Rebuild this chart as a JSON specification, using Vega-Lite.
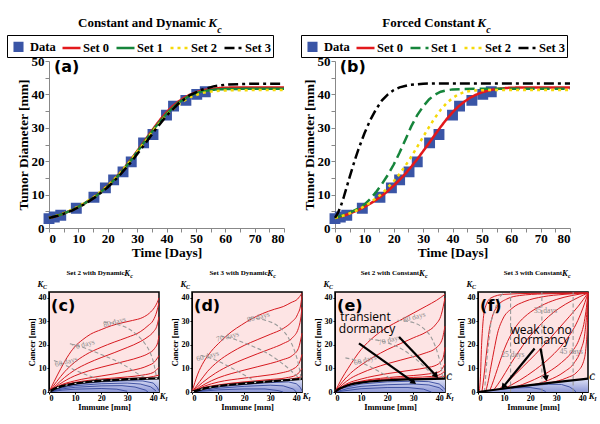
{
  "$schema": "https://vega.github.io/schema/vega-lite/v6.json",
  "padding": {"left": 6, "top": 17, "right": 0, "bottom": 0},
  "config": {
    "font": "Liberation Serif",
    "view": {"stroke": null},
    "axis": {"labelFont": "Liberation Serif", "labelFontWeight": "bold", "titleFont": "Liberation Serif", "titleFontWeight": "bold", "grid": false, "labelColor": "black", "titleColor": "black", "minExtent": 0},
    "text": {"font": "Liberation Serif"}
  },
  "datasets": {
    "top": [
      {"p":"d","s":"Data","t":0,"y":2.8},{"p":"d","s":"Data","t":1.8,"y":3.3},{"p":"d","s":"Data","t":4,"y":3.8},{"p":"d","s":"Data","t":9.3,"y":5.9},{"p":"d","s":"Data","t":15.3,"y":9.2},{"p":"d","s":"Data","t":19.2,"y":12.0},{"p":"d","s":"Data","t":22,"y":14.4},{"p":"d","s":"Data","t":25.2,"y":16.8},{"p":"d","s":"Data","t":28,"y":19.8},{"p":"d","s":"Data","t":32.2,"y":25.5},{"p":"d","s":"Data","t":35.4,"y":28.0},{"p":"d","s":"Data","t":40,"y":33.8},{"p":"d","s":"Data","t":42.4,"y":36.5},{"p":"d","s":"Data","t":46.6,"y":38.2},{"p":"d","s":"Data","t":50.3,"y":40.0},{"p":"d","s":"Data","t":53.2,"y":40.8},
      {"p":"ab","s":"Set 0","t":0,"y":3.0},{"p":"ab","s":"Set 0","t":2,"y":3.4},{"p":"ab","s":"Set 0","t":4,"y":4.0},{"p":"ab","s":"Set 0","t":6,"y":4.7},{"p":"ab","s":"Set 0","t":8,"y":5.4},{"p":"ab","s":"Set 0","t":10,"y":6.3},{"p":"ab","s":"Set 0","t":12,"y":7.3},{"p":"ab","s":"Set 0","t":14,"y":8.4},{"p":"ab","s":"Set 0","t":16,"y":9.7},{"p":"ab","s":"Set 0","t":18,"y":11.1},{"p":"ab","s":"Set 0","t":20,"y":12.7},{"p":"ab","s":"Set 0","t":22,"y":14.4},{"p":"ab","s":"Set 0","t":24,"y":16.3},{"p":"ab","s":"Set 0","t":26,"y":18.4},{"p":"ab","s":"Set 0","t":28,"y":20.6},{"p":"ab","s":"Set 0","t":30,"y":23.0},{"p":"ab","s":"Set 0","t":32,"y":25.4},{"p":"ab","s":"Set 0","t":34,"y":27.9},{"p":"ab","s":"Set 0","t":36,"y":30.3},{"p":"ab","s":"Set 0","t":38,"y":32.6},{"p":"ab","s":"Set 0","t":40,"y":34.6},{"p":"ab","s":"Set 0","t":42,"y":36.4},{"p":"ab","s":"Set 0","t":44,"y":37.8},{"p":"ab","s":"Set 0","t":46,"y":39.0},{"p":"ab","s":"Set 0","t":48,"y":39.9},{"p":"ab","s":"Set 0","t":50,"y":40.6},{"p":"ab","s":"Set 0","t":52,"y":41.1},{"p":"ab","s":"Set 0","t":54,"y":41.5},{"p":"ab","s":"Set 0","t":56,"y":41.7},{"p":"ab","s":"Set 0","t":58,"y":41.9},{"p":"ab","s":"Set 0","t":60,"y":42.0},{"p":"ab","s":"Set 0","t":65,"y":42.1},{"p":"ab","s":"Set 0","t":70,"y":42.1},{"p":"ab","s":"Set 0","t":75,"y":42.1},{"p":"ab","s":"Set 0","t":80,"y":42.1},
      {"p":"a","s":"Set 1","t":0,"y":3.0},{"p":"a","s":"Set 1","t":4,"y":4.0},{"p":"a","s":"Set 1","t":8,"y":5.4},{"p":"a","s":"Set 1","t":12,"y":7.3},{"p":"a","s":"Set 1","t":16,"y":9.6},{"p":"a","s":"Set 1","t":20,"y":12.5},{"p":"a","s":"Set 1","t":24,"y":16.1},{"p":"a","s":"Set 1","t":28,"y":20.4},{"p":"a","s":"Set 1","t":32,"y":25.2},{"p":"a","s":"Set 1","t":36,"y":30.0},{"p":"a","s":"Set 1","t":40,"y":34.2},{"p":"a","s":"Set 1","t":44,"y":37.5},{"p":"a","s":"Set 1","t":48,"y":39.7},{"p":"a","s":"Set 1","t":52,"y":40.9},{"p":"a","s":"Set 1","t":56,"y":41.4},{"p":"a","s":"Set 1","t":60,"y":41.6},{"p":"a","s":"Set 1","t":70,"y":41.7},{"p":"a","s":"Set 1","t":80,"y":41.7},
      {"p":"a","s":"Set 2","t":0,"y":3.0},{"p":"a","s":"Set 2","t":4,"y":4.0},{"p":"a","s":"Set 2","t":8,"y":5.5},{"p":"a","s":"Set 2","t":12,"y":7.4},{"p":"a","s":"Set 2","t":16,"y":9.7},{"p":"a","s":"Set 2","t":20,"y":12.6},{"p":"a","s":"Set 2","t":24,"y":16.2},{"p":"a","s":"Set 2","t":28,"y":20.4},{"p":"a","s":"Set 2","t":32,"y":25.0},{"p":"a","s":"Set 2","t":36,"y":29.7},{"p":"a","s":"Set 2","t":40,"y":33.8},{"p":"a","s":"Set 2","t":44,"y":37.0},{"p":"a","s":"Set 2","t":48,"y":39.2},{"p":"a","s":"Set 2","t":52,"y":40.4},{"p":"a","s":"Set 2","t":56,"y":41.0},{"p":"a","s":"Set 2","t":60,"y":41.2},{"p":"a","s":"Set 2","t":70,"y":41.3},{"p":"a","s":"Set 2","t":80,"y":41.3},
      {"p":"a","s":"Set 3","t":0,"y":3.0},{"p":"a","s":"Set 3","t":4,"y":3.9},{"p":"a","s":"Set 3","t":8,"y":5.3},{"p":"a","s":"Set 3","t":12,"y":7.1},{"p":"a","s":"Set 3","t":16,"y":9.4},{"p":"a","s":"Set 3","t":20,"y":12.2},{"p":"a","s":"Set 3","t":24,"y":15.7},{"p":"a","s":"Set 3","t":28,"y":19.8},{"p":"a","s":"Set 3","t":32,"y":24.4},{"p":"a","s":"Set 3","t":36,"y":29.2},{"p":"a","s":"Set 3","t":40,"y":33.6},{"p":"a","s":"Set 3","t":44,"y":37.2},{"p":"a","s":"Set 3","t":48,"y":39.8},{"p":"a","s":"Set 3","t":52,"y":41.4},{"p":"a","s":"Set 3","t":56,"y":42.4},{"p":"a","s":"Set 3","t":60,"y":42.9},{"p":"a","s":"Set 3","t":65,"y":43.1},{"p":"a","s":"Set 3","t":70,"y":43.2},{"p":"a","s":"Set 3","t":80,"y":43.2},
      {"p":"b","s":"Set 1","t":0,"y":3.0},{"p":"b","s":"Set 1","t":4,"y":4.2},{"p":"b","s":"Set 1","t":8,"y":5.8},{"p":"b","s":"Set 1","t":10,"y":7.0},{"p":"b","s":"Set 1","t":12,"y":8.7},{"p":"b","s":"Set 1","t":14,"y":10.8},{"p":"b","s":"Set 1","t":16,"y":13.2},{"p":"b","s":"Set 1","t":18,"y":15.9},{"p":"b","s":"Set 1","t":20,"y":19.0},{"p":"b","s":"Set 1","t":22,"y":22.6},{"p":"b","s":"Set 1","t":24,"y":26.5},{"p":"b","s":"Set 1","t":26,"y":30.5},{"p":"b","s":"Set 1","t":28,"y":33.8},{"p":"b","s":"Set 1","t":30,"y":36.4},{"p":"b","s":"Set 1","t":32,"y":38.5},{"p":"b","s":"Set 1","t":34,"y":39.9},{"p":"b","s":"Set 1","t":36,"y":40.8},{"p":"b","s":"Set 1","t":38,"y":41.2},{"p":"b","s":"Set 1","t":40,"y":41.5},{"p":"b","s":"Set 1","t":44,"y":41.6},{"p":"b","s":"Set 1","t":50,"y":41.7},{"p":"b","s":"Set 1","t":60,"y":41.7},{"p":"b","s":"Set 1","t":70,"y":41.7},{"p":"b","s":"Set 1","t":80,"y":41.7},
      {"p":"b","s":"Set 2","t":0,"y":3.0},{"p":"b","s":"Set 2","t":4,"y":4.0},{"p":"b","s":"Set 2","t":8,"y":5.5},{"p":"b","s":"Set 2","t":12,"y":7.6},{"p":"b","s":"Set 2","t":16,"y":10.3},{"p":"b","s":"Set 2","t":20,"y":14.0},{"p":"b","s":"Set 2","t":22,"y":16.2},{"p":"b","s":"Set 2","t":24,"y":18.7},{"p":"b","s":"Set 2","t":26,"y":21.4},{"p":"b","s":"Set 2","t":28,"y":24.3},{"p":"b","s":"Set 2","t":30,"y":27.3},{"p":"b","s":"Set 2","t":32,"y":30.2},{"p":"b","s":"Set 2","t":34,"y":33.0},{"p":"b","s":"Set 2","t":36,"y":35.4},{"p":"b","s":"Set 2","t":38,"y":37.4},{"p":"b","s":"Set 2","t":40,"y":38.9},{"p":"b","s":"Set 2","t":42,"y":40.0},{"p":"b","s":"Set 2","t":44,"y":40.7},{"p":"b","s":"Set 2","t":46,"y":41.0},{"p":"b","s":"Set 2","t":48,"y":41.2},{"p":"b","s":"Set 2","t":52,"y":41.3},{"p":"b","s":"Set 2","t":60,"y":41.3},{"p":"b","s":"Set 2","t":70,"y":41.3},{"p":"b","s":"Set 2","t":80,"y":41.3},
      {"p":"b","s":"Set 3","t":0,"y":3.0},{"p":"b","s":"Set 3","t":1,"y":4.5},{"p":"b","s":"Set 3","t":2,"y":6.6},{"p":"b","s":"Set 3","t":3,"y":9.3},{"p":"b","s":"Set 3","t":4,"y":12.3},{"p":"b","s":"Set 3","t":5,"y":15.3},{"p":"b","s":"Set 3","t":6,"y":18.2},{"p":"b","s":"Set 3","t":7,"y":21.0},{"p":"b","s":"Set 3","t":8,"y":23.6},{"p":"b","s":"Set 3","t":10,"y":28.3},{"p":"b","s":"Set 3","t":12,"y":32.3},{"p":"b","s":"Set 3","t":14,"y":35.6},{"p":"b","s":"Set 3","t":16,"y":38.2},{"p":"b","s":"Set 3","t":18,"y":40.0},{"p":"b","s":"Set 3","t":20,"y":41.3},{"p":"b","s":"Set 3","t":22,"y":42.1},{"p":"b","s":"Set 3","t":25,"y":42.8},{"p":"b","s":"Set 3","t":30,"y":43.2},{"p":"b","s":"Set 3","t":35,"y":43.3},{"p":"b","s":"Set 3","t":40,"y":43.3},{"p":"b","s":"Set 3","t":50,"y":43.3},{"p":"b","s":"Set 3","t":60,"y":43.3},{"p":"b","s":"Set 3","t":70,"y":43.3},{"p":"b","s":"Set 3","t":80,"y":43.3}
    ],
    "c": [
      {"k":"sep","x":0,"y":0},{"k":"sep","x":2,"y":1.3},{"k":"sep","x":5,"y":2.5},{"k":"sep","x":10,"y":3.6},{"k":"sep","x":15,"y":4.3},{"k":"sep","x":20,"y":4.8},{"k":"sep","x":25,"y":5.1},{"k":"sep","x":30,"y":5.4},{"k":"sep","x":35,"y":5.6},{"k":"sep","x":42.2,"y":5.8},
      {"k":"blue","id":1,"x":0,"y":0},{"k":"blue","id":1,"x":5,"y":2.2},{"k":"blue","id":1,"x":10,"y":3.3},{"k":"blue","id":1,"x":20,"y":4.3},{"k":"blue","id":1,"x":30,"y":4.8},{"k":"blue","id":1,"x":36,"y":4.7},{"k":"blue","id":1,"x":40,"y":3.8},{"k":"blue","id":1,"x":41.5,"y":2},{"k":"blue","id":1,"x":42.2,"y":0.5},
      {"k":"blue","id":2,"x":0,"y":0},{"k":"blue","id":2,"x":5,"y":1.8},{"k":"blue","id":2,"x":10,"y":2.7},{"k":"blue","id":2,"x":20,"y":3.5},{"k":"blue","id":2,"x":30,"y":3.8},{"k":"blue","id":2,"x":35,"y":3.4},{"k":"blue","id":2,"x":39,"y":2.2},{"k":"blue","id":2,"x":41,"y":0.5},
      {"k":"blue","id":3,"x":0,"y":0},{"k":"blue","id":3,"x":5,"y":1.3},{"k":"blue","id":3,"x":10,"y":2.0},{"k":"blue","id":3,"x":20,"y":2.6},{"k":"blue","id":3,"x":28,"y":2.7},{"k":"blue","id":3,"x":33,"y":2.1},{"k":"blue","id":3,"x":37,"y":0.8},{"k":"blue","id":3,"x":38,"y":0},
      {"k":"blue","id":4,"x":0,"y":0},{"k":"blue","id":4,"x":5,"y":0.8},{"k":"blue","id":4,"x":10,"y":1.2},{"k":"blue","id":4,"x":20,"y":1.5},{"k":"blue","id":4,"x":26,"y":1.2},{"k":"blue","id":4,"x":30,"y":0.3},
      {"k":"red","id":1,"x":0,"y":0},{"k":"red","id":1,"x":2,"y":4.5},{"k":"red","id":1,"x":4.5,"y":9.9},{"k":"red","id":1,"x":7,"y":14.8},{"k":"red","id":1,"x":9.7,"y":19},{"k":"red","id":1,"x":13,"y":22.3},{"k":"red","id":1,"x":16,"y":24.6},{"k":"red","id":1,"x":20,"y":26.5},{"k":"red","id":1,"x":24,"y":28.2},{"k":"red","id":1,"x":28,"y":29.4},{"k":"red","id":1,"x":32,"y":30.4},{"k":"red","id":1,"x":36,"y":31.7},{"k":"red","id":1,"x":38.5,"y":33.5},{"k":"red","id":1,"x":40.5,"y":36},{"k":"red","id":1,"x":41.5,"y":38},{"k":"red","id":1,"x":42.2,"y":40},
      {"k":"red","id":2,"x":0,"y":0},{"k":"red","id":2,"x":3,"y":4.5},{"k":"red","id":2,"x":6,"y":8.6},{"k":"red","id":2,"x":9.7,"y":12.5},{"k":"red","id":2,"x":14,"y":15.8},{"k":"red","id":2,"x":20,"y":19},{"k":"red","id":2,"x":25,"y":21.2},{"k":"red","id":2,"x":30,"y":23.2},{"k":"red","id":2,"x":35,"y":25.6},{"k":"red","id":2,"x":38,"y":28.2},{"k":"red","id":2,"x":40,"y":30.5},{"k":"red","id":2,"x":41.3,"y":34},{"k":"red","id":2,"x":42.2,"y":38},
      {"k":"red","id":3,"x":0,"y":0},{"k":"red","id":3,"x":3,"y":3.2},{"k":"red","id":3,"x":6,"y":6.2},{"k":"red","id":3,"x":9.7,"y":9.2},{"k":"red","id":3,"x":15,"y":12.3},{"k":"red","id":3,"x":20,"y":14.6},{"k":"red","id":3,"x":25,"y":16.7},{"k":"red","id":3,"x":30,"y":18.9},{"k":"red","id":3,"x":35,"y":21.4},{"k":"red","id":3,"x":38,"y":23.5},{"k":"red","id":3,"x":40,"y":25.5},{"k":"red","id":3,"x":41.5,"y":28.5},{"k":"red","id":3,"x":42.2,"y":32},
      {"k":"red","id":4,"x":0,"y":0},{"k":"red","id":4,"x":4,"y":3.3},{"k":"red","id":4,"x":9.7,"y":6.8},{"k":"red","id":4,"x":15,"y":8.9},{"k":"red","id":4,"x":20,"y":10.5},{"k":"red","id":4,"x":25,"y":11.9},{"k":"red","id":4,"x":30,"y":13.3},{"k":"red","id":4,"x":35,"y":14.9},{"k":"red","id":4,"x":38,"y":16.3},{"k":"red","id":4,"x":40.5,"y":18.5},{"k":"red","id":4,"x":41.7,"y":21},{"k":"red","id":4,"x":42.2,"y":24},
      {"k":"red","id":5,"x":0,"y":0},{"k":"red","id":5,"x":4,"y":2.7},{"k":"red","id":5,"x":9.7,"y":4.7},{"k":"red","id":5,"x":15,"y":5.9},{"k":"red","id":5,"x":20,"y":6.8},{"k":"red","id":5,"x":25,"y":7.7},{"k":"red","id":5,"x":30,"y":8.8},{"k":"red","id":5,"x":35,"y":10},{"k":"red","id":5,"x":38,"y":11.2},{"k":"red","id":5,"x":40.5,"y":12.8},{"k":"red","id":5,"x":42.2,"y":15.5},
      {"k":"red","id":6,"x":0,"y":0},{"k":"red","id":6,"x":5,"y":2.9},{"k":"red","id":6,"x":10,"y":4.1},{"k":"red","id":6,"x":20,"y":5.5},{"k":"red","id":6,"x":30,"y":6.4},{"k":"red","id":6,"x":36,"y":7.2},{"k":"red","id":6,"x":40,"y":8.3},{"k":"red","id":6,"x":42.2,"y":10.5},
      {"k":"red","id":7,"x":0,"y":0},{"k":"red","id":7,"x":5,"y":2.7},{"k":"red","id":7,"x":10,"y":3.8},{"k":"red","id":7,"x":20,"y":5.0},{"k":"red","id":7,"x":30,"y":5.7},{"k":"red","id":7,"x":38,"y":6.2},{"k":"red","id":7,"x":42.2,"y":7.2},
      {"k":"iso","id":1,"x":1.9,"y":13.4},{"k":"iso","id":1,"x":6,"y":11.5},{"k":"iso","id":1,"x":10,"y":9.3},{"k":"iso","id":1,"x":15,"y":7.0},{"k":"iso","id":1,"x":20,"y":5.3},{"k":"iso","id":1,"x":24,"y":4.9},
      {"k":"iso","id":2,"x":8,"y":20.5},{"k":"iso","id":2,"x":12,"y":19.3},{"k":"iso","id":2,"x":17,"y":17.3},{"k":"iso","id":2,"x":22,"y":15},{"k":"iso","id":2,"x":27,"y":12.5},{"k":"iso","id":2,"x":31,"y":10},{"k":"iso","id":2,"x":34,"y":7.8},{"k":"iso","id":2,"x":37,"y":6},
      {"k":"iso","id":3,"x":21,"y":29.8},{"k":"iso","id":3,"x":26,"y":28.8},{"k":"iso","id":3,"x":30,"y":27.2},{"k":"iso","id":3,"x":33.5,"y":24.5},{"k":"iso","id":3,"x":36.5,"y":21},{"k":"iso","id":3,"x":38.5,"y":17.5},{"k":"iso","id":3,"x":40,"y":13},{"k":"iso","id":3,"x":40.8,"y":9},{"k":"iso","id":3,"x":41.2,"y":6.5},
      {"k":"isolab","t":"60 days","x":6.6,"y":12.7},{"k":"isolab","t":"70 days","x":13.2,"y":20},{"k":"isolab","t":"80 days","x":25.2,"y":29.6},
      {"k":"ttl","t":"Set 2 with Dynamic","x":29,"y":50.6},{"k":"K","t":"K","x":30,"y":50.6},{"k":"sub","t":"c","x":31.2,"y":49.2},
      {"k":"K","t":"K","x":-3.3,"y":46},{"k":"sub","t":"C","x":-2.3,"y":44.8},{"k":"K","t":"K","x":43.6,"y":-1.5},{"k":"sub","t":"I","x":44.6,"y":-2.8},
      {"k":"pan","t":"(c)","x":0.8,"y":36.5}
    ],
    "d": [
      {"k":"sep","x":0,"y":0},{"k":"sep","x":5,"y":1.6},{"k":"sep","x":10,"y":2.5},{"k":"sep","x":20,"y":3.6},{"k":"sep","x":30,"y":4.5},{"k":"sep","x":42.2,"y":5.6},
      {"k":"blue","id":1,"x":0,"y":0},{"k":"blue","id":1,"x":5,"y":1.4},{"k":"blue","id":1,"x":10,"y":2.2},{"k":"blue","id":1,"x":20,"y":3.2},{"k":"blue","id":1,"x":30,"y":4},{"k":"blue","id":1,"x":37,"y":4.3},{"k":"blue","id":1,"x":40,"y":3.5},{"k":"blue","id":1,"x":41.5,"y":2},{"k":"blue","id":1,"x":42.2,"y":0.5},
      {"k":"blue","id":2,"x":0,"y":0},{"k":"blue","id":2,"x":10,"y":1.6},{"k":"blue","id":2,"x":20,"y":2.4},{"k":"blue","id":2,"x":30,"y":2.9},{"k":"blue","id":2,"x":35,"y":2.6},{"k":"blue","id":2,"x":39,"y":1.2},{"k":"blue","id":2,"x":40,"y":0},
      {"k":"blue","id":3,"x":0,"y":0},{"k":"blue","id":3,"x":10,"y":0.9},{"k":"blue","id":3,"x":20,"y":1.3},{"k":"blue","id":3,"x":28,"y":1.3},{"k":"blue","id":3,"x":33,"y":0.6},{"k":"blue","id":3,"x":35,"y":0},
      {"k":"red","id":1,"x":0,"y":0},{"k":"red","id":1,"x":2.2,"y":7.6},{"k":"red","id":1,"x":4.5,"y":12.8},{"k":"red","id":1,"x":7.3,"y":17.2},{"k":"red","id":1,"x":11,"y":21.5},{"k":"red","id":1,"x":15,"y":25.5},{"k":"red","id":1,"x":19,"y":28.5},{"k":"red","id":1,"x":22.7,"y":31},{"k":"red","id":1,"x":27,"y":33.3},{"k":"red","id":1,"x":31.7,"y":35.2},{"k":"red","id":1,"x":35,"y":36.3},{"k":"red","id":1,"x":38,"y":38},{"k":"red","id":1,"x":40.5,"y":39.5},{"k":"red","id":1,"x":42.2,"y":42},
      {"k":"red","id":2,"x":0,"y":0},{"k":"red","id":2,"x":3,"y":4.5},{"k":"red","id":2,"x":6,"y":8.8},{"k":"red","id":2,"x":10,"y":13},{"k":"red","id":2,"x":15,"y":16.8},{"k":"red","id":2,"x":20,"y":19.8},{"k":"red","id":2,"x":25,"y":22.2},{"k":"red","id":2,"x":30,"y":24.5},{"k":"red","id":2,"x":35,"y":27},{"k":"red","id":2,"x":38,"y":29.5},{"k":"red","id":2,"x":40.5,"y":33},{"k":"red","id":2,"x":41.7,"y":37},{"k":"red","id":2,"x":42.2,"y":41},
      {"k":"red","id":3,"x":0,"y":0},{"k":"red","id":3,"x":4,"y":4},{"k":"red","id":3,"x":9,"y":8},{"k":"red","id":3,"x":15,"y":11.6},{"k":"red","id":3,"x":20,"y":14},{"k":"red","id":3,"x":25,"y":16.2},{"k":"red","id":3,"x":30,"y":18.3},{"k":"red","id":3,"x":35,"y":20.6},{"k":"red","id":3,"x":38.5,"y":23},{"k":"red","id":3,"x":40.8,"y":27},{"k":"red","id":3,"x":41.8,"y":32},{"k":"red","id":3,"x":42.2,"y":36},
      {"k":"red","id":4,"x":0,"y":0},{"k":"red","id":4,"x":5,"y":3.4},{"k":"red","id":4,"x":10,"y":6},{"k":"red","id":4,"x":15,"y":7.8},{"k":"red","id":4,"x":20,"y":9.3},{"k":"red","id":4,"x":25,"y":10.7},{"k":"red","id":4,"x":30,"y":12.1},{"k":"red","id":4,"x":35,"y":13.8},{"k":"red","id":4,"x":38.5,"y":15.5},{"k":"red","id":4,"x":40.8,"y":18.5},{"k":"red","id":4,"x":42.2,"y":25},
      {"k":"red","id":5,"x":0,"y":0},{"k":"red","id":5,"x":5,"y":2.6},{"k":"red","id":5,"x":10,"y":4.2},{"k":"red","id":5,"x":20,"y":5.9},{"k":"red","id":5,"x":30,"y":7.3},{"k":"red","id":5,"x":35,"y":8.3},{"k":"red","id":5,"x":38.5,"y":9.6},{"k":"red","id":5,"x":41,"y":12},{"k":"red","id":5,"x":42.2,"y":16},
      {"k":"red","id":6,"x":0,"y":0},{"k":"red","id":6,"x":5,"y":2},{"k":"red","id":6,"x":10,"y":3},{"k":"red","id":6,"x":20,"y":4.3},{"k":"red","id":6,"x":30,"y":5.3},{"k":"red","id":6,"x":36,"y":6},{"k":"red","id":6,"x":40,"y":7.2},{"k":"red","id":6,"x":42.2,"y":10},
      {"k":"red","id":7,"x":0,"y":0},{"k":"red","id":7,"x":10,"y":2.7},{"k":"red","id":7,"x":20,"y":3.9},{"k":"red","id":7,"x":30,"y":4.8},{"k":"red","id":7,"x":38,"y":5.5},{"k":"red","id":7,"x":42.2,"y":6.5},
      {"k":"iso","id":1,"x":3.5,"y":15.5},{"k":"iso","id":1,"x":8,"y":14},{"k":"iso","id":1,"x":13,"y":11.5},{"k":"iso","id":1,"x":18,"y":8.5},{"k":"iso","id":1,"x":22,"y":6},{"k":"iso","id":1,"x":25,"y":4},
      {"k":"iso","id":2,"x":11,"y":23.8},{"k":"iso","id":2,"x":16,"y":22.5},{"k":"iso","id":2,"x":22,"y":20},{"k":"iso","id":2,"x":28,"y":17},{"k":"iso","id":2,"x":33,"y":13.5},{"k":"iso","id":2,"x":37,"y":10},{"k":"iso","id":2,"x":40,"y":7},{"k":"iso","id":2,"x":41.5,"y":5.5},
      {"k":"iso","id":3,"x":22,"y":31.5},{"k":"iso","id":3,"x":28,"y":30.5},{"k":"iso","id":3,"x":33,"y":28},{"k":"iso","id":3,"x":37,"y":23},{"k":"iso","id":3,"x":39.5,"y":17},{"k":"iso","id":3,"x":41,"y":11},{"k":"iso","id":3,"x":41.8,"y":6},
      {"k":"isolab","t":"60 days","x":6,"y":15.2},{"k":"isolab","t":"70 days","x":13.7,"y":23.4},{"k":"isolab","t":"80 days","x":25.5,"y":31.7},
      {"k":"ttl","t":"Set 3 with Dynamic","x":29,"y":50.6},{"k":"K","t":"K","x":30,"y":50.6},{"k":"sub","t":"c","x":31.2,"y":49.2},
      {"k":"K","t":"K","x":-3.3,"y":46},{"k":"sub","t":"C","x":-2.3,"y":44.8},{"k":"K","t":"K","x":43.6,"y":-1.5},{"k":"sub","t":"I","x":44.6,"y":-2.8},
      {"k":"pan","t":"(d)","x":0.8,"y":36.5}
    ],
    "e": [
      {"k":"sep","x":0,"y":0},{"k":"sep","x":1.5,"y":1.3},{"k":"sep","x":3,"y":2},{"k":"sep","x":6,"y":3.2},{"k":"sep","x":10,"y":4},{"k":"sep","x":15,"y":4.6},{"k":"sep","x":20,"y":5},{"k":"sep","x":30,"y":5.4},{"k":"sep","x":42.2,"y":5.7},
      {"k":"blue","id":1,"x":0,"y":0},{"k":"blue","id":1,"x":3,"y":1.7},{"k":"blue","id":1,"x":10,"y":3.4},{"k":"blue","id":1,"x":20,"y":4.3},{"k":"blue","id":1,"x":30,"y":4.6},{"k":"blue","id":1,"x":36,"y":4.4},{"k":"blue","id":1,"x":40,"y":3.4},{"k":"blue","id":1,"x":41.5,"y":2},{"k":"blue","id":1,"x":42.2,"y":1},
      {"k":"blue","id":2,"x":0,"y":0},{"k":"blue","id":2,"x":5,"y":1.5},{"k":"blue","id":2,"x":10,"y":2.4},{"k":"blue","id":2,"x":20,"y":3.1},{"k":"blue","id":2,"x":30,"y":3.4},{"k":"blue","id":2,"x":36,"y":3},{"k":"blue","id":2,"x":40,"y":1.8},{"k":"blue","id":2,"x":41.5,"y":0.5},
      {"k":"blue","id":3,"x":0,"y":0},{"k":"blue","id":3,"x":10,"y":1.4},{"k":"blue","id":3,"x":20,"y":1.9},{"k":"blue","id":3,"x":28,"y":1.9},{"k":"blue","id":3,"x":34,"y":1.2},{"k":"blue","id":3,"x":37,"y":0},
      {"k":"red","id":1,"x":0,"y":0},{"k":"red","id":1,"x":2.5,"y":5.5},{"k":"red","id":1,"x":5,"y":10},{"k":"red","id":1,"x":10,"y":18},{"k":"red","id":1,"x":15,"y":23.5},{"k":"red","id":1,"x":20,"y":27.5},{"k":"red","id":1,"x":25,"y":30.5},{"k":"red","id":1,"x":30,"y":33.5},{"k":"red","id":1,"x":35,"y":36.5},{"k":"red","id":1,"x":39,"y":39},{"k":"red","id":1,"x":42.2,"y":41.5},
      {"k":"red","id":2,"x":0,"y":0},{"k":"red","id":2,"x":3,"y":4.5},{"k":"red","id":2,"x":6,"y":8},{"k":"red","id":2,"x":10,"y":11.5},{"k":"red","id":2,"x":15,"y":15},{"k":"red","id":2,"x":20,"y":18},{"k":"red","id":2,"x":25,"y":20.5},{"k":"red","id":2,"x":30,"y":23},{"k":"red","id":2,"x":35,"y":25.5},{"k":"red","id":2,"x":38.5,"y":28.5},{"k":"red","id":2,"x":40.8,"y":33},{"k":"red","id":2,"x":42.2,"y":40},
      {"k":"red","id":3,"x":0,"y":0},{"k":"red","id":3,"x":3,"y":3.3},{"k":"red","id":3,"x":6,"y":5.8},{"k":"red","id":3,"x":10,"y":8},{"k":"red","id":3,"x":15,"y":10.2},{"k":"red","id":3,"x":20,"y":12},{"k":"red","id":3,"x":25,"y":13.5},{"k":"red","id":3,"x":30,"y":15},{"k":"red","id":3,"x":35,"y":16.7},{"k":"red","id":3,"x":38.5,"y":18.5},{"k":"red","id":3,"x":41,"y":22},{"k":"red","id":3,"x":42.2,"y":28},
      {"k":"red","id":4,"x":0,"y":0},{"k":"red","id":4,"x":4,"y":3.2},{"k":"red","id":4,"x":10,"y":5.5},{"k":"red","id":4,"x":15,"y":6.8},{"k":"red","id":4,"x":20,"y":7.8},{"k":"red","id":4,"x":25,"y":8.6},{"k":"red","id":4,"x":30,"y":9.4},{"k":"red","id":4,"x":35,"y":10.3},{"k":"red","id":4,"x":39,"y":11.5},{"k":"red","id":4,"x":41.3,"y":14},{"k":"red","id":4,"x":42.2,"y":19},
      {"k":"red","id":5,"x":0,"y":0},{"k":"red","id":5,"x":4,"y":2.8},{"k":"red","id":5,"x":10,"y":4.6},{"k":"red","id":5,"x":20,"y":6.1},{"k":"red","id":5,"x":30,"y":7},{"k":"red","id":5,"x":36,"y":7.7},{"k":"red","id":5,"x":40,"y":8.6},{"k":"red","id":5,"x":42.2,"y":12},
      {"k":"red","id":6,"x":0,"y":0},{"k":"red","id":6,"x":5,"y":2.9},{"k":"red","id":6,"x":10,"y":4.3},{"k":"red","id":6,"x":20,"y":5.6},{"k":"red","id":6,"x":30,"y":6.2},{"k":"red","id":6,"x":37,"y":6.6},{"k":"red","id":6,"x":40.5,"y":7.5},{"k":"red","id":6,"x":42.2,"y":9},
      {"k":"red","id":7,"x":0,"y":0},{"k":"red","id":7,"x":5,"y":2.8},{"k":"red","id":7,"x":10,"y":4.1},{"k":"red","id":7,"x":20,"y":5.2},{"k":"red","id":7,"x":30,"y":5.6},{"k":"red","id":7,"x":38,"y":6},{"k":"red","id":7,"x":42.2,"y":6.8},
      {"k":"iso","id":1,"x":4,"y":14.5},{"k":"iso","id":1,"x":8,"y":13.5},{"k":"iso","id":1,"x":13,"y":11},{"k":"iso","id":1,"x":18,"y":8},{"k":"iso","id":1,"x":22,"y":5.5},{"k":"iso","id":1,"x":24,"y":5},
      {"k":"iso","id":2,"x":13,"y":22.5},{"k":"iso","id":2,"x":20,"y":21},{"k":"iso","id":2,"x":26,"y":18},{"k":"iso","id":2,"x":31,"y":14},{"k":"iso","id":2,"x":35,"y":10},{"k":"iso","id":2,"x":38,"y":7},{"k":"iso","id":2,"x":39,"y":6.2},
      {"k":"iso","id":3,"x":24,"y":30.5},{"k":"iso","id":3,"x":30,"y":29.5},{"k":"iso","id":3,"x":34,"y":27},{"k":"iso","id":3,"x":37.5,"y":22},{"k":"iso","id":3,"x":39.5,"y":16},{"k":"iso","id":3,"x":40.8,"y":10},{"k":"iso","id":3,"x":41.3,"y":6},
      {"k":"isolab","t":"60 days","x":11.6,"y":13.5},{"k":"isolab","t":"70 days","x":20.9,"y":22},{"k":"isolab","t":"80 days","x":30.4,"y":31.7},
      {"k":"ann","t":"transient","x":11.7,"y":31.7},{"k":"ann","t":"dormancy","x":12.3,"y":26.9},
      {"k":"arrow","id":1,"x":9.2,"y":20.7,"x2":30.2,"y2":4.1},{"k":"arrow","id":2,"x":24.6,"y":23.4,"x2":38.8,"y2":6.9},
      {"k":"ttl","t":"Set 2 with Constant","x":32.3,"y":50.6},{"k":"K","t":"K","x":33.3,"y":50.6},{"k":"sub","t":"c","x":34.5,"y":49.2},
      {"k":"K","t":"K","x":-3.3,"y":46},{"k":"sub","t":"C","x":-2.3,"y":44.8},{"k":"K","t":"K","x":43.6,"y":-1.5},{"k":"sub","t":"I","x":44.6,"y":-2.8},{"k":"K","t":"C̄","x":43.8,"y":6.4},
      {"k":"pan","t":"(e)","x":0.8,"y":36.5}
    ],
    "f": [
      {"k":"sep","x":0,"y":0},{"k":"sep","x":10,"y":1.5},{"k":"sep","x":20,"y":2.9},{"k":"sep","x":30,"y":4.2},{"k":"sep","x":42.2,"y":5.7},
      {"k":"blue","id":1,"x":5,"y":0.7},{"k":"blue","id":1,"x":10,"y":1.4},{"k":"blue","id":1,"x":20,"y":2.7},{"k":"blue","id":1,"x":27,"y":3.3},{"k":"blue","id":1,"x":32,"y":3.2},{"k":"blue","id":1,"x":35,"y":2.2},{"k":"blue","id":1,"x":37,"y":0.8},{"k":"blue","id":1,"x":37.5,"y":0},
      {"k":"blue","id":2,"x":8,"y":1.1},{"k":"blue","id":2,"x":14,"y":1.7},{"k":"blue","id":2,"x":20,"y":1.9},{"k":"blue","id":2,"x":24,"y":1.2},{"k":"blue","id":2,"x":26,"y":0.2},
      {"k":"red","id":0,"x":0.5,"y":0},{"k":"red","id":0,"x":1,"y":8},{"k":"red","id":0,"x":1.3,"y":18},{"k":"red","id":0,"x":1.8,"y":28},{"k":"red","id":0,"x":2.8,"y":36},{"k":"red","id":0,"x":5,"y":40},{"k":"red","id":0,"x":10,"y":41.5},{"k":"red","id":0,"x":20,"y":41.9},{"k":"red","id":0,"x":42.2,"y":42.1},
      {"k":"red","id":1,"x":1.5,"y":0},{"k":"red","id":1,"x":2.2,"y":6},{"k":"red","id":1,"x":2.8,"y":12},{"k":"red","id":1,"x":3.5,"y":19},{"k":"red","id":1,"x":4.3,"y":26},{"k":"red","id":1,"x":5.5,"y":32},{"k":"red","id":1,"x":7.5,"y":36.5},{"k":"red","id":1,"x":11,"y":39.5},{"k":"red","id":1,"x":16,"y":41},{"k":"red","id":1,"x":25,"y":41.7},{"k":"red","id":1,"x":35,"y":41.9},{"k":"red","id":1,"x":42.2,"y":42.1},
      {"k":"red","id":2,"x":3,"y":0.3},{"k":"red","id":2,"x":4,"y":5},{"k":"red","id":2,"x":5,"y":11},{"k":"red","id":2,"x":6.2,"y":18},{"k":"red","id":2,"x":7.5,"y":25},{"k":"red","id":2,"x":9.5,"y":31},{"k":"red","id":2,"x":13,"y":35.5},{"k":"red","id":2,"x":18,"y":38.5},{"k":"red","id":2,"x":25,"y":40.5},{"k":"red","id":2,"x":33,"y":41.5},{"k":"red","id":2,"x":42.2,"y":42.1},
      {"k":"red","id":3,"x":4.5,"y":0.5},{"k":"red","id":3,"x":6,"y":5},{"k":"red","id":3,"x":7.5,"y":10},{"k":"red","id":3,"x":9.5,"y":16.5},{"k":"red","id":3,"x":12,"y":23},{"k":"red","id":3,"x":15,"y":28.5},{"k":"red","id":3,"x":19,"y":33},{"k":"red","id":3,"x":24,"y":36.5},{"k":"red","id":3,"x":30,"y":39.3},{"k":"red","id":3,"x":36,"y":41},{"k":"red","id":3,"x":42.2,"y":42.1},
      {"k":"red","id":4,"x":6,"y":0.8},{"k":"red","id":4,"x":9,"y":5.5},{"k":"red","id":4,"x":12,"y":11},{"k":"red","id":4,"x":15.5,"y":17},{"k":"red","id":4,"x":19,"y":22.5},{"k":"red","id":4,"x":23,"y":27.5},{"k":"red","id":4,"x":27,"y":32},{"k":"red","id":4,"x":31,"y":35.5},{"k":"red","id":4,"x":36,"y":38.8},{"k":"red","id":4,"x":42.2,"y":42.1},
      {"k":"red","id":5,"x":8,"y":1.1},{"k":"red","id":5,"x":12,"y":5},{"k":"red","id":5,"x":17,"y":10.5},{"k":"red","id":5,"x":22,"y":16},{"k":"red","id":5,"x":27,"y":22},{"k":"red","id":5,"x":31,"y":27},{"k":"red","id":5,"x":35,"y":32},{"k":"red","id":5,"x":38.5,"y":36.5},{"k":"red","id":5,"x":42.2,"y":42.1},
      {"k":"red","id":6,"x":10,"y":1.4},{"k":"red","id":6,"x":16,"y":5},{"k":"red","id":6,"x":22,"y":9.5},{"k":"red","id":6,"x":28,"y":15},{"k":"red","id":6,"x":33,"y":21},{"k":"red","id":6,"x":37,"y":27.5},{"k":"red","id":6,"x":39.5,"y":33.5},{"k":"red","id":6,"x":41,"y":38},{"k":"red","id":6,"x":42.2,"y":42.1},
      {"k":"red","id":7,"x":14,"y":2},{"k":"red","id":7,"x":20,"y":4.5},{"k":"red","id":7,"x":27,"y":8.5},{"k":"red","id":7,"x":32,"y":12.5},{"k":"red","id":7,"x":36,"y":17},{"k":"red","id":7,"x":39,"y":23},{"k":"red","id":7,"x":40.8,"y":30},{"k":"red","id":7,"x":41.6,"y":36},{"k":"red","id":7,"x":42.2,"y":42.1},
      {"k":"red","id":8,"x":20,"y":2.8},{"k":"red","id":8,"x":27,"y":5},{"k":"red","id":8,"x":33,"y":8.5},{"k":"red","id":8,"x":37,"y":12.5},{"k":"red","id":8,"x":39.5,"y":18},{"k":"red","id":8,"x":41,"y":25},{"k":"red","id":8,"x":41.7,"y":33},{"k":"red","id":8,"x":42.2,"y":42.1},
      {"k":"red","id":9,"x":28,"y":4},{"k":"red","id":9,"x":34,"y":6},{"k":"red","id":9,"x":38,"y":8.5},{"k":"red","id":9,"x":40.5,"y":13},{"k":"red","id":9,"x":41.5,"y":20},{"k":"red","id":9,"x":42,"y":30},{"k":"red","id":9,"x":42.2,"y":42.1},
      {"k":"iso","id":1,"x":2.5,"y":0},{"k":"iso","id":1,"x":3.5,"y":15},{"k":"iso","id":1,"x":5,"y":30},{"k":"iso","id":1,"x":8,"y":40},{"k":"iso","id":1,"x":10,"y":42.4},
      {"k":"iso","id":2,"x":12.5,"y":0},{"k":"iso","id":2,"x":12.5,"y":42.4},
      {"k":"iso","id":3,"x":24.5,"y":0},{"k":"iso","id":3,"x":24.5,"y":42.4},
      {"k":"iso","id":4,"x":36.5,"y":0},{"k":"iso","id":4,"x":36.5,"y":42.4},
      {"k":"isolab","t":"25 days","x":13.4,"y":15.9},{"k":"isolab","t":"35 days","x":25.9,"y":34.6},{"k":"isolab","t":"45 days","x":35.8,"y":16.9},
      {"k":"ann","t":"weak to no","x":24.2,"y":26.3},{"k":"ann","t":"dormancy","x":24.2,"y":21.9},
      {"k":"arrow","id":3,"x":21.7,"y":18.5,"x2":9.7,"y2":2.2},{"k":"arrow","id":4,"x":24,"y":18.5,"x2":26.1,"y2":5.8},
      {"k":"ttl","t":"Set 3 with Constant","x":32.3,"y":50.6},{"k":"K","t":"K","x":33.3,"y":50.6},{"k":"sub","t":"c","x":34.5,"y":49.2},
      {"k":"K","t":"K","x":-3.3,"y":46},{"k":"sub","t":"C","x":-2.3,"y":44.8},{"k":"K","t":"K","x":43.6,"y":-1.5},{"k":"sub","t":"I","x":44.6,"y":-2.8},{"k":"K","t":"C̄","x":43.8,"y":6.4},
      {"k":"pan","t":"(f)","x":0.8,"y":36.5}
    ]
  },
  "concat": [
    {
      "hconcat": [
        {
          "width": 235, "height": 167,
          "data": {"name": "top"},
          "encoding": {
            "x": {"field": "t", "type": "quantitative", "scale": {"domain": [0, 80], "nice": false}, "title": "Time [Days]", "axis": {"values": [0,5,10,15,20,25,30,35,40,45,50,55,60,65,70,75,80], "labelExpr": "datum.value % 10 == 0 ? datum.label : ''", "labelFontSize": 13, "titleFontSize": 13.5, "tickSize": 4, "domainColor": "#888", "tickColor": "#888", "labelPadding": 0, "titlePadding": 0}},
            "y": {"field": "y", "type": "quantitative", "scale": {"domain": [0, 50], "nice": false}, "title": "Tumor Diameter [mm]", "axis": {"values": [0,5,10,15,20,25,30,35,40,45,50], "labelExpr": "datum.value % 10 == 0 ? datum.label : ''", "labelFontSize": 13, "titleFontSize": 13.5, "tickSize": 4, "domainColor": "#888", "tickColor": "#888", "labelPadding": 1, "titlePadding": 1}}
          },
          "layer": [
            {"transform": [{"filter": "datum.p == 'd'"}], "mark": {"type": "point", "filled": false, "fill": "#3a55a6", "fillOpacity": 1, "strokeWidth": 2.5, "size": 400, "opacity": 1},
             "encoding": {
               "color": {"field": "s", "type": "nominal", "scale": {"domain": ["Data","Set 0","Set 1","Set 2","Set 3"], "range": ["#3a55a6","#e3191c","#16853b","#f5d90a","#000000"]},
                 "legend": {"orient": "none", "legendX": -42, "legendY": -26, "direction": "horizontal", "columns": 5, "title": null, "strokeColor": "black", "padding": 1, "labelFont": "Liberation Serif", "labelFontWeight": "bold", "labelFontSize": 12.5, "labelColor": "black", "symbolSize": 324, "symbolStrokeWidth": 2.5, "columnPadding": 1, "labelOffset": 1}},
               "shape": {"field": "s", "type": "nominal", "scale": {"domain": ["Data","Set 0","Set 1","Set 2","Set 3"], "range": ["M-0.42,-0.42H0.42V0.42H-0.42Z","stroke","stroke","stroke","stroke"]},
                 "legend": {"orient": "none", "legendX": -42, "legendY": -26, "direction": "horizontal", "columns": 5, "title": null, "strokeColor": "black", "padding": 1, "labelFont": "Liberation Serif", "labelFontWeight": "bold", "labelFontSize": 12.5, "labelColor": "black", "symbolSize": 324, "symbolStrokeWidth": 2.5, "columnPadding": 1, "labelOffset": 1}}
             }},
            {"transform": [{"filter": "datum.p == 'ab' || datum.p == 'a'"}], "mark": {"type": "line", "strokeWidth": 2.5},
             "encoding": {
               "color": {"field": "s", "type": "nominal", "scale": {"domain": ["Data","Set 0","Set 1","Set 2","Set 3"], "range": ["#3a55a6","#e3191c","#16853b","#f5d90a","#000000"]},
                 "legend": {"orient": "none", "legendX": -42, "legendY": -26, "direction": "horizontal", "columns": 5, "title": null, "strokeColor": "black", "padding": 1, "labelFont": "Liberation Serif", "labelFontWeight": "bold", "labelFontSize": 12.5, "labelColor": "black", "symbolSize": 324, "symbolStrokeWidth": 2.5, "columnPadding": 1, "labelOffset": 1}},
               "strokeDash": {"field": "s", "type": "nominal", "scale": {"domain": ["Data","Set 0","Set 1","Set 2","Set 3"], "range": [[1,0],[1,0],[1,0],[3,4],[10,4,3,4]]},
                 "legend": {"orient": "none", "legendX": -42, "legendY": -26, "direction": "horizontal", "columns": 5, "title": null, "strokeColor": "black", "padding": 1, "labelFont": "Liberation Serif", "labelFontWeight": "bold", "labelFontSize": 12.5, "labelColor": "black", "symbolSize": 324, "symbolStrokeWidth": 2.5, "columnPadding": 1, "labelOffset": 1}}
             }},
            {"data": {"values": [{"t": 1.7, "y": 48.2, "txt": "(a)"}]}, "mark": {"type": "text", "font": "DejaVu Sans", "fontWeight": "bold", "fontSize": 16, "align": "left", "baseline": "middle"}, "encoding": {"text": {"field": "txt"}}},
            {"data": {"values": [{"t": 53.4, "y": 61.3, "txt": "Constant and Dynamic"}]}, "mark": {"type": "text", "fontWeight": "bold", "fontSize": 13, "align": "right", "baseline": "middle"}, "encoding": {"text": {"field": "txt"}}},
            {"data": {"values": [{"t": 54.2, "y": 61.3, "txt": "K"}]}, "mark": {"type": "text", "fontWeight": "bold", "fontStyle": "italic", "fontSize": 13, "align": "left", "baseline": "middle"}, "encoding": {"text": {"field": "txt"}}},
            {"data": {"values": [{"t": 57.3, "y": 59.4, "txt": "c"}]}, "mark": {"type": "text", "fontWeight": "bold", "fontStyle": "italic", "fontSize": 10, "align": "left", "baseline": "middle"}, "encoding": {"text": {"field": "txt"}}}
          ]
        },
        {
          "width": 235, "height": 167,
          "data": {"name": "top"},
          "encoding": {
            "x": {"field": "t", "type": "quantitative", "scale": {"domain": [0, 80], "nice": false}, "title": "Time [Days]", "axis": {"values": [0,5,10,15,20,25,30,35,40,45,50,55,60,65,70,75,80], "labelExpr": "datum.value % 10 == 0 ? datum.label : ''", "labelFontSize": 13, "titleFontSize": 13.5, "tickSize": 4, "domainColor": "#888", "tickColor": "#888", "labelPadding": 0, "titlePadding": 0}},
            "y": {"field": "y", "type": "quantitative", "scale": {"domain": [0, 50], "nice": false}, "title": "Tumor Diameter [mm]", "axis": {"values": [0,5,10,15,20,25,30,35,40,45,50], "labelExpr": "datum.value % 10 == 0 ? datum.label : ''", "labelFontSize": 13, "titleFontSize": 13.5, "tickSize": 4, "domainColor": "#888", "tickColor": "#888", "labelPadding": 1, "titlePadding": 1}}
          },
          "layer": [
            {"transform": [{"filter": "datum.p == 'd'"}], "mark": {"type": "point", "filled": false, "fill": "#3a55a6", "fillOpacity": 1, "strokeWidth": 2.5, "size": 400, "opacity": 1},
             "encoding": {
               "color": {"field": "s", "type": "nominal", "scale": {"domain": ["Data","Set 0","Set 1","Set 2","Set 3"], "range": ["#3a55a6","#e3191c","#16853b","#f5d90a","#000000"]},
                 "legend": {"orient": "none", "legendX": -34, "legendY": -26, "direction": "horizontal", "columns": 5, "title": null, "strokeColor": "black", "padding": 1, "labelFont": "Liberation Serif", "labelFontWeight": "bold", "labelFontSize": 12.5, "labelColor": "black", "symbolSize": 324, "symbolStrokeWidth": 2.5, "columnPadding": 1, "labelOffset": 1}},
               "shape": {"field": "s", "type": "nominal", "scale": {"domain": ["Data","Set 0","Set 1","Set 2","Set 3"], "range": ["M-0.42,-0.42H0.42V0.42H-0.42Z","stroke","stroke","stroke","stroke"]},
                 "legend": {"orient": "none", "legendX": -34, "legendY": -26, "direction": "horizontal", "columns": 5, "title": null, "strokeColor": "black", "padding": 1, "labelFont": "Liberation Serif", "labelFontWeight": "bold", "labelFontSize": 12.5, "labelColor": "black", "symbolSize": 324, "symbolStrokeWidth": 2.5, "columnPadding": 1, "labelOffset": 1}}
             }},
            {"transform": [{"filter": "datum.p == 'ab' || datum.p == 'b'"}], "mark": {"type": "line", "strokeWidth": 2.5},
             "encoding": {
               "color": {"field": "s", "type": "nominal", "scale": {"domain": ["Data","Set 0","Set 1","Set 2","Set 3"], "range": ["#3a55a6","#e3191c","#16853b","#f5d90a","#000000"]},
                 "legend": {"orient": "none", "legendX": -34, "legendY": -26, "direction": "horizontal", "columns": 5, "title": null, "strokeColor": "black", "padding": 1, "labelFont": "Liberation Serif", "labelFontWeight": "bold", "labelFontSize": 12.5, "labelColor": "black", "symbolSize": 324, "symbolStrokeWidth": 2.5, "columnPadding": 1, "labelOffset": 1}},
               "strokeDash": {"field": "s", "type": "nominal", "scale": {"domain": ["Data","Set 0","Set 1","Set 2","Set 3"], "range": [[1,0],[1,0],[10,5],[3,4],[10,4,3,4]]},
                 "legend": {"orient": "none", "legendX": -34, "legendY": -26, "direction": "horizontal", "columns": 5, "title": null, "strokeColor": "black", "padding": 1, "labelFont": "Liberation Serif", "labelFontWeight": "bold", "labelFontSize": 12.5, "labelColor": "black", "symbolSize": 324, "symbolStrokeWidth": 2.5, "columnPadding": 1, "labelOffset": 1}}
             }},
            {"data": {"values": [{"t": 1.6, "y": 48.2, "txt": "(b)"}]}, "mark": {"type": "text", "font": "DejaVu Sans", "fontWeight": "bold", "fontSize": 16, "align": "left", "baseline": "middle"}, "encoding": {"text": {"field": "txt"}}},
            {"data": {"values": [{"t": 47.6, "y": 61.3, "txt": "Forced Constant"}]}, "mark": {"type": "text", "fontWeight": "bold", "fontSize": 13, "align": "right", "baseline": "middle"}, "encoding": {"text": {"field": "txt"}}},
            {"data": {"values": [{"t": 48.4, "y": 61.3, "txt": "K"}]}, "mark": {"type": "text", "fontWeight": "bold", "fontStyle": "italic", "fontSize": 13, "align": "left", "baseline": "middle"}, "encoding": {"text": {"field": "txt"}}},
            {"data": {"values": [{"t": 51.5, "y": 59.4, "txt": "c"}]}, "mark": {"type": "text", "fontWeight": "bold", "fontStyle": "italic", "fontSize": 10, "align": "left", "baseline": "middle"}, "encoding": {"text": {"field": "txt"}}}
          ]
        }
      ],
      "spacing": 11,
      "resolve": {"scale": {"color": "independent", "shape": "independent", "strokeDash": "independent"}}
    },
    {
      "hconcat": [
        {
          "width": 110, "height": 100,
          "data": {"name": "c"},
          "view": {"fill": "#fde4e4", "stroke": "black", "strokeWidth": 1.5},
          "encoding": {
            "x": {"field": "x", "type": "quantitative", "scale": {"domain": [0, 42.2], "nice": false, "zero": false}, "title": "Immune [mm]", "axis": {"values": [0,10,20,30,40], "labelFontSize": 8, "titleFontSize": 8.5, "tickSize": 2, "labelPadding": 0, "titlePadding": 0, "domainColor": "black", "tickColor": "black"}},
            "y": {"field": "y", "type": "quantitative", "scale": {"domain": [0, 42.5], "nice": false, "zero": false}, "title": "Cancer [mm]", "axis": {"values": [0,10,20,30,40], "labelFontSize": 8, "titleFontSize": 8.5, "tickSize": 2, "labelPadding": 1, "titlePadding": 2, "minExtent": 0, "domainColor": "black", "tickColor": "black"}}
          },
          "layer": [
            {"transform": [{"filter": "datum.k == 'sep'"}], "mark": {"type": "area", "color": {"gradient": "linear", "x1": 0, "y1": 1, "x2": 0, "y2": 0, "stops": [{"offset": 0, "color": "#8e98d6"}, {"offset": 1, "color": "#dfe2f6"}]}, "opacity": 1}},
            {"transform": [{"filter": "datum.k == 'blue'"}], "mark": {"type": "line", "color": "#34479c", "strokeWidth": 0.9}, "encoding": {"detail": {"field": "id"}, "order": {"value": null}}},
            {"transform": [{"filter": "datum.k == 'red'"}], "mark": {"type": "line", "color": "#d7191f", "strokeWidth": 1, "interpolate": "monotone"}, "encoding": {"detail": {"field": "id"}, "order": {"value": null}}},
            {"transform": [{"filter": "datum.k == 'iso'"}], "mark": {"type": "line", "color": "#9a9a9a", "strokeWidth": 1.1, "strokeDash": [4, 2.5], "interpolate": "monotone"}, "encoding": {"detail": {"field": "id"}, "order": {"value": null}}},
            {"transform": [{"filter": "datum.k == 'sep'"}], "mark": {"type": "line", "color": "black", "strokeWidth": 2.4, "interpolate": "monotone"}},
            {"transform": [{"filter": "datum.k == 'sep'"}], "mark": {"type": "line", "color": "white", "strokeWidth": 0.9, "strokeDash": [2, 7], "interpolate": "monotone"}},
            {"transform": [{"filter": "datum.k == 'isolab'"}], "mark": {"type": "text", "color": "#8a8a8a", "fontSize": 7.5, "angle": 345, "baseline": "middle"}, "encoding": {"text": {"field": "t"}}},
            {"transform": [{"filter": "datum.k == 'ttl'"}], "mark": {"type": "text", "fontWeight": "bold", "fontSize": 7, "align": "right", "baseline": "middle"}, "encoding": {"text": {"field": "t"}}},
            {"transform": [{"filter": "datum.k == 'K'"}], "mark": {"type": "text", "fontWeight": "bold", "fontStyle": "italic", "fontSize": 8.5, "align": "center", "baseline": "middle"}, "encoding": {"text": {"field": "t"}}},
            {"transform": [{"filter": "datum.k == 'sub'"}], "mark": {"type": "text", "fontWeight": "bold", "fontStyle": "italic", "fontSize": 6, "align": "left", "baseline": "middle"}, "encoding": {"text": {"field": "t"}}},
            {"transform": [{"filter": "datum.k == 'pan'"}], "mark": {"type": "text", "font": "DejaVu Sans", "fontWeight": "bold", "fontSize": 16, "align": "left", "baseline": "middle"}, "encoding": {"text": {"field": "t"}}}
          ]
        },
        {
          "width": 110, "height": 100,
          "data": {"name": "d"},
          "view": {"fill": "#fde4e4", "stroke": "black", "strokeWidth": 1.5},
          "encoding": {
            "x": {"field": "x", "type": "quantitative", "scale": {"domain": [0, 42.2], "nice": false, "zero": false}, "title": "Immune [mm]", "axis": {"values": [0,10,20,30,40], "labelFontSize": 8, "titleFontSize": 8.5, "tickSize": 2, "labelPadding": 0, "titlePadding": 0, "domainColor": "black", "tickColor": "black"}},
            "y": {"field": "y", "type": "quantitative", "scale": {"domain": [0, 42.5], "nice": false, "zero": false}, "title": "Cancer [mm]", "axis": {"values": [0,10,20,30,40], "labelFontSize": 8, "titleFontSize": 8.5, "tickSize": 2, "labelPadding": 1, "titlePadding": 2, "minExtent": 0, "domainColor": "black", "tickColor": "black"}}
          },
          "layer": [
            {"transform": [{"filter": "datum.k == 'sep'"}], "mark": {"type": "area", "color": {"gradient": "linear", "x1": 0, "y1": 1, "x2": 0, "y2": 0, "stops": [{"offset": 0, "color": "#8e98d6"}, {"offset": 1, "color": "#dfe2f6"}]}, "opacity": 1}},
            {"transform": [{"filter": "datum.k == 'blue'"}], "mark": {"type": "line", "color": "#34479c", "strokeWidth": 0.9}, "encoding": {"detail": {"field": "id"}, "order": {"value": null}}},
            {"transform": [{"filter": "datum.k == 'red'"}], "mark": {"type": "line", "color": "#d7191f", "strokeWidth": 1, "interpolate": "monotone"}, "encoding": {"detail": {"field": "id"}, "order": {"value": null}}},
            {"transform": [{"filter": "datum.k == 'iso'"}], "mark": {"type": "line", "color": "#9a9a9a", "strokeWidth": 1.1, "strokeDash": [4, 2.5], "interpolate": "monotone"}, "encoding": {"detail": {"field": "id"}, "order": {"value": null}}},
            {"transform": [{"filter": "datum.k == 'sep'"}], "mark": {"type": "line", "color": "black", "strokeWidth": 2.4, "interpolate": "monotone"}},
            {"transform": [{"filter": "datum.k == 'sep'"}], "mark": {"type": "line", "color": "white", "strokeWidth": 0.9, "strokeDash": [2, 7], "interpolate": "monotone"}},
            {"transform": [{"filter": "datum.k == 'isolab'"}], "mark": {"type": "text", "color": "#8a8a8a", "fontSize": 7.5, "angle": 345, "baseline": "middle"}, "encoding": {"text": {"field": "t"}}},
            {"transform": [{"filter": "datum.k == 'ttl'"}], "mark": {"type": "text", "fontWeight": "bold", "fontSize": 7, "align": "right", "baseline": "middle"}, "encoding": {"text": {"field": "t"}}},
            {"transform": [{"filter": "datum.k == 'K'"}], "mark": {"type": "text", "fontWeight": "bold", "fontStyle": "italic", "fontSize": 8.5, "align": "center", "baseline": "middle"}, "encoding": {"text": {"field": "t"}}},
            {"transform": [{"filter": "datum.k == 'sub'"}], "mark": {"type": "text", "fontWeight": "bold", "fontStyle": "italic", "fontSize": 6, "align": "left", "baseline": "middle"}, "encoding": {"text": {"field": "t"}}},
            {"transform": [{"filter": "datum.k == 'pan'"}], "mark": {"type": "text", "font": "DejaVu Sans", "fontWeight": "bold", "fontSize": 16, "align": "left", "baseline": "middle"}, "encoding": {"text": {"field": "t"}}}
          ]
        },
        {
          "width": 110, "height": 100,
          "data": {"name": "e"},
          "view": {"fill": "#fde4e4", "stroke": "black", "strokeWidth": 1.5},
          "encoding": {
            "x": {"field": "x", "type": "quantitative", "scale": {"domain": [0, 42.2], "nice": false, "zero": false}, "title": "Immune [mm]", "axis": {"values": [0,10,20,30,40], "labelFontSize": 8, "titleFontSize": 8.5, "tickSize": 2, "labelPadding": 0, "titlePadding": 0, "domainColor": "black", "tickColor": "black"}},
            "y": {"field": "y", "type": "quantitative", "scale": {"domain": [0, 42.5], "nice": false, "zero": false}, "title": "Cancer [mm]", "axis": {"values": [0,10,20,30,40], "labelFontSize": 8, "titleFontSize": 8.5, "tickSize": 2, "labelPadding": 1, "titlePadding": 2, "minExtent": 0, "domainColor": "black", "tickColor": "black"}}
          },
          "layer": [
            {"transform": [{"filter": "datum.k == 'sep'"}], "mark": {"type": "area", "color": {"gradient": "linear", "x1": 0, "y1": 1, "x2": 0, "y2": 0, "stops": [{"offset": 0, "color": "#8e98d6"}, {"offset": 1, "color": "#dfe2f6"}]}, "opacity": 1}},
            {"transform": [{"filter": "datum.k == 'blue'"}], "mark": {"type": "line", "color": "#34479c", "strokeWidth": 0.9}, "encoding": {"detail": {"field": "id"}, "order": {"value": null}}},
            {"transform": [{"filter": "datum.k == 'red'"}], "mark": {"type": "line", "color": "#d7191f", "strokeWidth": 1, "interpolate": "monotone"}, "encoding": {"detail": {"field": "id"}, "order": {"value": null}}},
            {"transform": [{"filter": "datum.k == 'iso'"}], "mark": {"type": "line", "color": "#9a9a9a", "strokeWidth": 1.1, "strokeDash": [4, 2.5], "interpolate": "monotone"}, "encoding": {"detail": {"field": "id"}, "order": {"value": null}}},
            {"transform": [{"filter": "datum.k == 'sep'"}], "mark": {"type": "line", "color": "black", "strokeWidth": 2.2, "interpolate": "monotone"}},
            {"transform": [{"filter": "datum.k == 'isolab'"}], "mark": {"type": "text", "color": "#8a8a8a", "fontSize": 7.5, "angle": 345, "baseline": "middle"}, "encoding": {"text": {"field": "t"}}},
            {"transform": [{"filter": "datum.k == 'ann'"}], "mark": {"type": "text", "font": "Open Sans", "fontSize": 12, "baseline": "middle", "color": "black"}, "encoding": {"text": {"field": "t"}}},
            {"transform": [{"filter": "datum.k == 'arrow'"}], "mark": {"type": "rule", "color": "black", "strokeWidth": 2.2}, "encoding": {"x2": {"field": "x2"}, "y2": {"field": "y2"}}},
            {"transform": [{"filter": "datum.k == 'arrow' && datum.id == 1"}], "mark": {"type": "point", "shape": "triangle-up", "filled": true, "color": "black", "size": 45, "opacity": 1, "angle": 126}, "encoding": {"x": {"field": "x2", "type": "quantitative", "title": "Immune [mm]"}, "y": {"field": "y2", "type": "quantitative", "title": "Cancer [mm]"}}},
            {"transform": [{"filter": "datum.k == 'arrow' && datum.id == 2"}], "mark": {"type": "point", "shape": "triangle-up", "filled": true, "color": "black", "size": 45, "opacity": 1, "angle": 137}, "encoding": {"x": {"field": "x2", "type": "quantitative", "title": "Immune [mm]"}, "y": {"field": "y2", "type": "quantitative", "title": "Cancer [mm]"}}},
            {"transform": [{"filter": "datum.k == 'ttl'"}], "mark": {"type": "text", "fontWeight": "bold", "fontSize": 7, "align": "right", "baseline": "middle"}, "encoding": {"text": {"field": "t"}}},
            {"transform": [{"filter": "datum.k == 'K'"}], "mark": {"type": "text", "fontWeight": "bold", "fontStyle": "italic", "fontSize": 8.5, "align": "center", "baseline": "middle"}, "encoding": {"text": {"field": "t"}}},
            {"transform": [{"filter": "datum.k == 'sub'"}], "mark": {"type": "text", "fontWeight": "bold", "fontStyle": "italic", "fontSize": 6, "align": "left", "baseline": "middle"}, "encoding": {"text": {"field": "t"}}},
            {"transform": [{"filter": "datum.k == 'pan'"}], "mark": {"type": "text", "font": "DejaVu Sans", "fontWeight": "bold", "fontSize": 16, "align": "left", "baseline": "middle"}, "encoding": {"text": {"field": "t"}}}
          ]
        },
        {
          "width": 110, "height": 100,
          "data": {"name": "f"},
          "view": {"fill": "#fde4e4", "stroke": "black", "strokeWidth": 1.5},
          "encoding": {
            "x": {"field": "x", "type": "quantitative", "scale": {"domain": [0, 42.2], "nice": false, "zero": false}, "title": "Immune [mm]", "axis": {"values": [0,10,20,30,40], "labelFontSize": 8, "titleFontSize": 8.5, "tickSize": 2, "labelPadding": 0, "titlePadding": 0, "domainColor": "black", "tickColor": "black"}},
            "y": {"field": "y", "type": "quantitative", "scale": {"domain": [0, 42.5], "nice": false, "zero": false}, "title": "Cancer [mm]", "axis": {"values": [0,10,20,30,40], "labelFontSize": 8, "titleFontSize": 8.5, "tickSize": 2, "labelPadding": 1, "titlePadding": 2, "minExtent": 0, "domainColor": "black", "tickColor": "black"}}
          },
          "layer": [
            {"transform": [{"filter": "datum.k == 'sep'"}], "mark": {"type": "area", "color": {"gradient": "linear", "x1": 0, "y1": 1, "x2": 0, "y2": 0, "stops": [{"offset": 0, "color": "#8e98d6"}, {"offset": 1, "color": "#dfe2f6"}]}, "opacity": 1}},
            {"transform": [{"filter": "datum.k == 'blue'"}], "mark": {"type": "line", "color": "#34479c", "strokeWidth": 0.9}, "encoding": {"detail": {"field": "id"}, "order": {"value": null}}},
            {"transform": [{"filter": "datum.k == 'red'"}], "mark": {"type": "line", "color": "#d7191f", "strokeWidth": 1, "interpolate": "monotone"}, "encoding": {"detail": {"field": "id"}, "order": {"value": null}}},
            {"transform": [{"filter": "datum.k == 'iso'"}], "mark": {"type": "line", "color": "#9a9a9a", "strokeWidth": 1.1, "strokeDash": [4, 2.5]}, "encoding": {"detail": {"field": "id"}, "order": {"value": null}}},
            {"transform": [{"filter": "datum.k == 'sep'"}], "mark": {"type": "line", "color": "black", "strokeWidth": 2.2, "interpolate": "monotone"}},
            {"transform": [{"filter": "datum.k == 'isolab'"}], "mark": {"type": "text", "color": "#8a8a8a", "fontSize": 7.5, "baseline": "middle"}, "encoding": {"text": {"field": "t"}}},
            {"transform": [{"filter": "datum.k == 'ann'"}], "mark": {"type": "text", "font": "Open Sans", "fontSize": 12, "baseline": "middle", "color": "black"}, "encoding": {"text": {"field": "t"}}},
            {"transform": [{"filter": "datum.k == 'arrow'"}], "mark": {"type": "rule", "color": "black", "strokeWidth": 2.2}, "encoding": {"x2": {"field": "x2"}, "y2": {"field": "y2"}}},
            {"transform": [{"filter": "datum.k == 'arrow' && datum.id == 3"}], "mark": {"type": "point", "shape": "triangle-up", "filled": true, "color": "black", "size": 45, "opacity": 1, "angle": 218}, "encoding": {"x": {"field": "x2", "type": "quantitative", "title": "Immune [mm]"}, "y": {"field": "y2", "type": "quantitative", "title": "Cancer [mm]"}}},
            {"transform": [{"filter": "datum.k == 'arrow' && datum.id == 4"}], "mark": {"type": "point", "shape": "triangle-up", "filled": true, "color": "black", "size": 45, "opacity": 1, "angle": 170}, "encoding": {"x": {"field": "x2", "type": "quantitative", "title": "Immune [mm]"}, "y": {"field": "y2", "type": "quantitative", "title": "Cancer [mm]"}}},
            {"transform": [{"filter": "datum.k == 'ttl'"}], "mark": {"type": "text", "fontWeight": "bold", "fontSize": 7, "align": "right", "baseline": "middle"}, "encoding": {"text": {"field": "t"}}},
            {"transform": [{"filter": "datum.k == 'K'"}], "mark": {"type": "text", "fontWeight": "bold", "fontStyle": "italic", "fontSize": 8.5, "align": "center", "baseline": "middle"}, "encoding": {"text": {"field": "t"}}},
            {"transform": [{"filter": "datum.k == 'sub'"}], "mark": {"type": "text", "fontWeight": "bold", "fontStyle": "italic", "fontSize": 6, "align": "left", "baseline": "middle"}, "encoding": {"text": {"field": "t"}}},
            {"transform": [{"filter": "datum.k == 'pan'"}], "mark": {"type": "text", "font": "DejaVu Sans", "fontWeight": "bold", "fontSize": 16, "align": "left", "baseline": "middle"}, "encoding": {"text": {"field": "t"}}}
          ]
        }
      ],
      "spacing": 33,
      "bounds": "flush"
    }
  ],
  "columns": 1,
  "align": "none",
  "spacing": 9
}
